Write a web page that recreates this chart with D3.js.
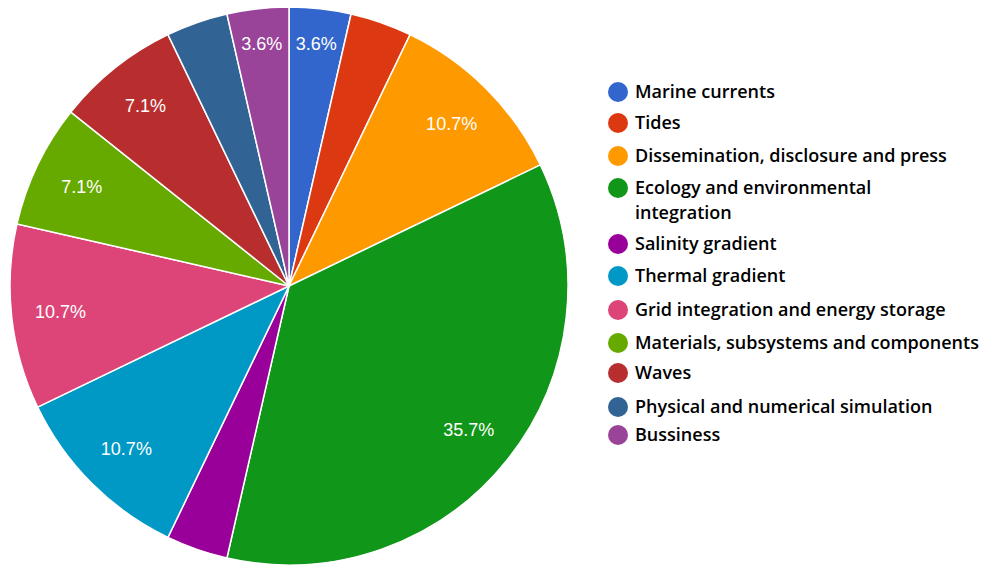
<!DOCTYPE html>
<html>
<head>
<meta charset="utf-8">
<script src="https://cdn.jsdelivr.net/npm/d3@7"></script>
<style>
  body { margin: 0; background: #fff; }
</style>
</head>
<body>
<div class="chart"></div>
<script>
// slice counts out of 28 (percent labels = count / 28)
var categories = [
  "Marine currents", "Tides", "Dissemination, disclosure and press",
  "Ecology and environmental integration", "Salinity gradient", "Thermal gradient",
  "Grid integration and energy storage", "Materials, subsystems and components",
  "Waves", "Physical and numerical simulation", "Bussiness"
];
var values = [1, 1, 3, 10, 1, 3, 3, 2, 2, 1, 1];
var colors = ["#3366cc", "#dc3912", "#ff9900", "#109618", "#990099", "#0099c6",
  "#dd4477", "#66aa00", "#b82e2e", "#316395", "#994499"];
// slices where the original chart printed its percentage
var labelled = [true, false, true, true, false, true, true, true, true, false, true];
// legend lines (the long one wraps)
var legendLines = [
  ["Marine currents"], ["Tides"], ["Dissemination, disclosure and press"],
  ["Ecology and environmental", "integration"], ["Salinity gradient"], ["Thermal gradient"],
  ["Grid integration and energy storage"], ["Materials, subsystems and components"],
  ["Waves"], ["Physical and numerical simulation"], ["Bussiness"]
];
var legendY = [92, 123, 156, 188, 244, 276, 310, 343, 373, 407, 435];

var width = 992, height = 566;
var cx = 289, cy = 286, R = 279;

var svg = d3.select(".chart").append("svg")
  .attr("width", width)
  .attr("height", height);

var total = d3.sum(values);
var pie = d3.pie().sort(null).value(d => d.value);
var data = categories.map((c, i) => ({name: c, value: values[i], color: colors[i], show: labelled[i]}));
var arcs = pie(data);
var arc = d3.arc().innerRadius(0).outerRadius(R);

var g = svg.append("g").attr("transform", `translate(${cx},${cy})`);

g.selectAll("path")
  .data(arcs)
  .join("path")
  .attr("d", arc)
  .attr("fill", d => d.data.color)
  .attr("stroke", "#fff")
  .attr("stroke-width", 1.5);

var fmt = d3.format(".1%");
g.selectAll("text")
  .data(arcs.filter(d => d.data.show))
  .join("text")
  .attr("transform", d => {
    var r = d.data.value < 2 ? 244 : 230;
    var a = (d.startAngle + d.endAngle) / 2;
    return `translate(${Math.sin(a) * r},${-Math.cos(a) * r})`;
  })
  .attr("text-anchor", "middle")
  .attr("dy", "0.35em")
  .attr("fill", "#fff")
  .style("font-family", "Arial, 'Liberation Sans', sans-serif")
  .style("font-size", "18px")
  .text(d => fmt(d.data.value / total));

var legend = svg.append("g");
var items = legend.selectAll("g")
  .data(data)
  .join("g")
  .attr("transform", (d, i) => `translate(618,${legendY[i]})`);

items.append("circle")
  .attr("r", 10)
  .attr("fill", d => d.color);

items.append("text")
  .attr("x", 17)
  .attr("y", 6)
  .attr("fill", "#000")
  .style("font-family", "'Open Sans', sans-serif")
  .style("font-weight", 600)
  .style("font-size", "18px")
  .selectAll("tspan")
  .data((d, i) => legendLines[i])
  .join("tspan")
  .attr("x", 17)
  .attr("dy", (d, j) => j ? 25 : 0)
  .text(d => d);
</script>
</body>
</html>
